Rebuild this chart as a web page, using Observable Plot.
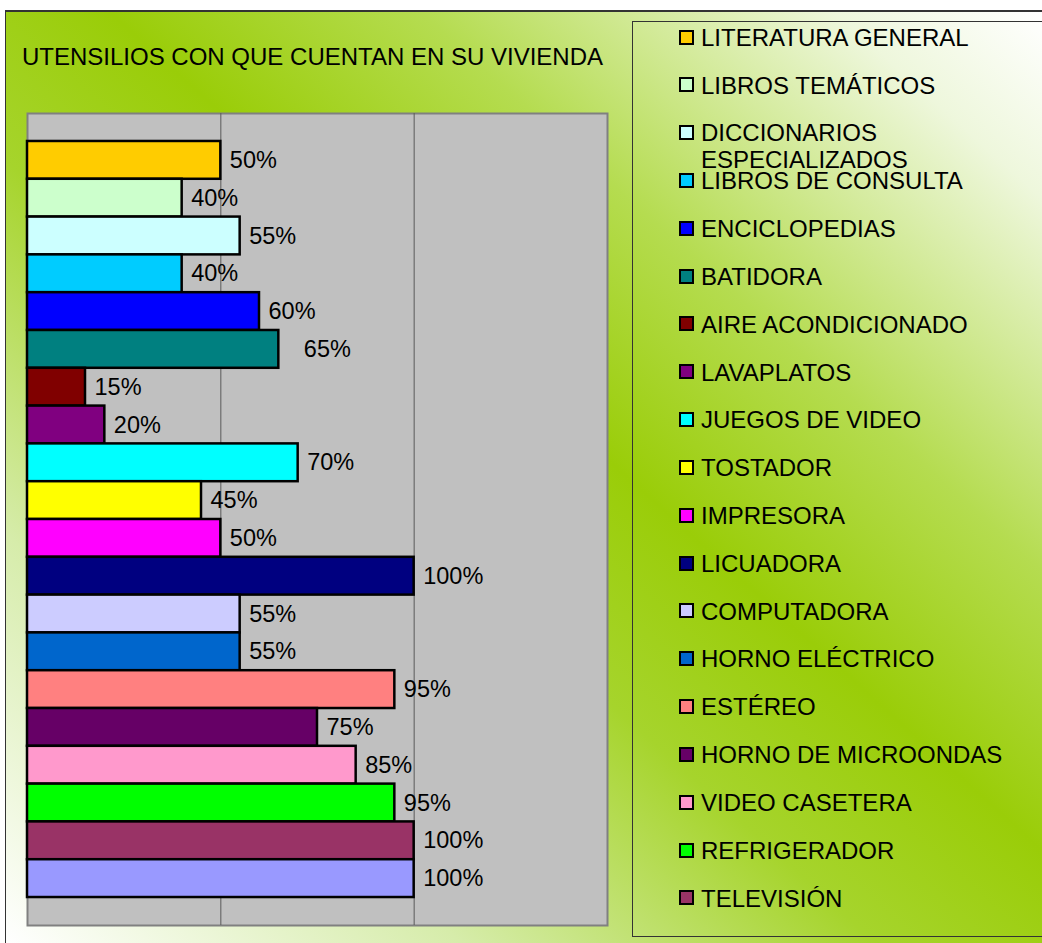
<!DOCTYPE html>
<html>
<head>
<meta charset="utf-8">
<script src="https://cdn.jsdelivr.net/npm/d3@7"></script>
<script src="https://cdn.jsdelivr.net/npm/@observablehq/plot@0.6"></script>
<style>
  html, body { margin: 0; padding: 0; background: #ffffff; overflow: hidden; }
  body { width: 1042px; height: 943px; position: relative; font-family: "Liberation Sans", Arial, sans-serif; }
  #bg { position: absolute; left: 5px; top: 10px; width: 1037px; height: 933px;
        border-top: 2px solid #333; border-left: 1px solid #333; box-sizing: border-box;
        background: linear-gradient(to bottom left, #ffffff 0%, #eef7dc 10%, #b5dc50 30%, #9acd08 45%, #a6d42c 58%, #d6ecaa 78%, #ffffff 100%); }
  #title { position: absolute; left: 22px; top: 45px; font-size: 24px; line-height: 24px; color: #000; white-space: nowrap; }
  #plot { position: absolute; left: 0; top: 0; }
  #legendBox { position: absolute; left: 632px; top: 21px; width: 500px; height: 916px; border: 1px solid #333; box-sizing: border-box; }
  .sw { position: absolute; left: 679px; width: 15px; height: 15px; border: 2px solid #000; box-sizing: border-box; }
  .lt { position: absolute; left: 701px; max-width: 330px; font-size: 24px; line-height: 27px; color: #000; }
</style>
</head>
<body>
<div id="bg"></div>
<div id="title"></div>
<div id="plot"></div>
<div id="legendBox"></div>
<div id="legend"></div>
<script>
const titleText = "UTENSILIOS CON QUE CUENTAN EN SU VIVIENDA";

const names = [
  "LITERATURA GENERAL", "LIBROS TEMÁTICOS", "DICCIONARIOS ESPECIALIZADOS", "LIBROS DE CONSULTA",
  "ENCICLOPEDIAS", "BATIDORA", "AIRE ACONDICIONADO", "LAVAPLATOS", "JUEGOS DE VIDEO",
  "TOSTADOR", "IMPRESORA", "LICUADORA", "COMPUTADORA", "HORNO ELÉCTRICO", "ESTÉREO",
  "HORNO DE MICROONDAS", "VIDEO CASETERA", "REFRIGERADOR", "TELEVISIÓN", "OTRO"
];

const values = [50, 40, 55, 40, 60, 65, 15, 20, 70, 45, 50, 100, 55, 55, 95, 75, 85, 95, 100, 100];

const seriesColors = [
  "#FFCC00", "#CCFFCC", "#CCFFFF", "#00CCFF", "#0000FF", "#008080", "#800000", "#800080",
  "#00FFFF", "#FFFF00", "#FF00FF", "#000080", "#CCCCFF", "#0066CC", "#FF8080", "#660066",
  "#FF99CC", "#00FF00", "#993366", "#9999FF"
];

const gridTicks = [50, 100];
const legendCount = 19; // the last series is not shown in the reference legend

const data = names.map((name, i) => ({ name, value: values[i] }));

document.getElementById("title").textContent = titleText;

const font = "'Liberation Sans', Arial, sans-serif";

const chart = Plot.plot({
  width: 620,
  height: 943,
  marginLeft: 27,
  marginRight: 13,
  marginTop: 113,
  marginBottom: 18,
  x: { domain: [0, 150], axis: null },
  y: { domain: names, axis: null, paddingInner: 0, paddingOuter: 0.74, round: false },
  color: { domain: names, range: seriesColors },
  style: { background: "transparent", fontFamily: font, fontSize: "23px", color: "#000", overflow: "visible" },
  marks: [
    Plot.frame({ fill: "#c0c0c0", stroke: "#808080", strokeWidth: 2 }),
    Plot.ruleX(gridTicks, { stroke: "#5a5a5a", strokeWidth: 1 }),
    Plot.barX(data, { x: "value", y: "name", fill: "name", stroke: "#000", strokeWidth: 2.5, insetTop: 0, insetBottom: 0 }),
    Plot.text(data.filter(d => d.name !== "BATIDORA"), {
      x: "value", y: "name", text: d => d.value + "%", textAnchor: "start", dx: 9, fill: "#000", fontSize: 23.5
    }),
    Plot.text(data.filter(d => d.name === "BATIDORA"), {
      x: "value", y: "name", text: d => d.value + "%", textAnchor: "start", dx: 25, fill: "#000", fontSize: 23.5
    })
  ]
});
document.getElementById("plot").appendChild(chart);

// Legend (HTML), evenly spaced entries as in the reference
const legend = document.getElementById("legend");
const firstCenter = 37, spacing = 47.83;
names.slice(0, legendCount).forEach((name, i) => {
  const cy = firstCenter + i * spacing;
  const sw = document.createElement("div");
  sw.className = "sw";
  sw.style.top = (cy - 7.5) + "px";
  sw.style.background = seriesColors[i];
  legend.appendChild(sw);
  const t = document.createElement("div");
  t.className = "lt";
  t.style.top = (cy - 13.3) + "px";
  t.textContent = name;
  legend.appendChild(t);
});
</script>
</body>
</html>
